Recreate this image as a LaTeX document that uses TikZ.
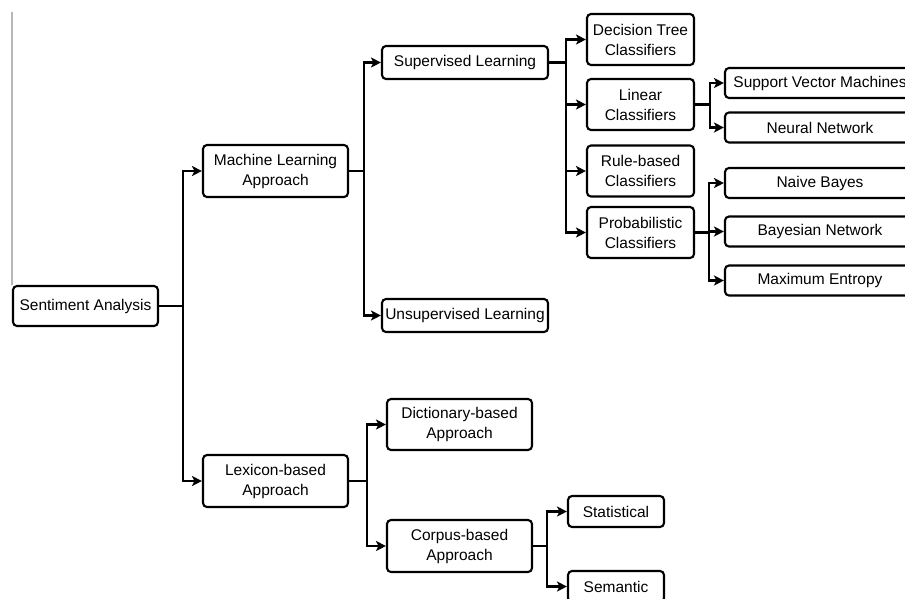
\documentclass[tikz,border=0pt]{standalone}
\usepackage{fontspec}
\setmainfont{Liberation Sans}
\usetikzlibrary{arrows.meta}

\begin{document}
\begin{tikzpicture}[x=1pt,y=-1pt,
    box/.style={draw,line width=2.1pt,rounded corners=4pt,inner sep=0pt,align=center,
        font=\fontsize{15.5}{20}\selectfont},
    arr/.style={-{Stealth[length=10pt,width=10pt,inset=2.5pt]},line width=2.3pt}]
    \useasboundingbox (0,0) rectangle (905,598);
    \clip (0,0) rectangle (905,598);
    % level 1 and 2
    \node[box,minimum width=145pt,minimum height=40pt] (11) at (85.5,306) {Sentiment Analysis};
    \node[box,minimum width=145pt,minimum height=52pt] (21) at (275.5,171) {Machine Learning\\Approach};
    \node[box,minimum width=145pt,minimum height=52pt] (22) at (275.5,481) {Lexicon-based\\Approach};
    % level 3
    \node[box,minimum width=166pt,minimum height=33pt] (31) at (465,62.5) {Supervised Learning};
    \node[box,minimum width=166pt,minimum height=33pt] (32) at (465,315.5) {Unsupervised Learning};
    \node[box,minimum width=145pt,minimum height=51pt] (33) at (459.5,424.5) {Dictionary-based\\Approach};
    \node[box,minimum width=145pt,minimum height=52pt] (34) at (459.5,546) {Corpus-based\\Approach};
    % level 4
    \node[box,minimum width=107pt,minimum height=51pt] (41) at (640.5,39.5) {Decision Tree\\Classifiers};
    \node[box,minimum width=107pt,minimum height=51pt] (42) at (640.5,104.5) {Linear\\Classifiers};
    \node[box,minimum width=107pt,minimum height=51pt] (43) at (640.5,171) {Rule-based\\Classifiers};
    \node[box,minimum width=107pt,minimum height=51pt] (44) at (640.5,232.5) {Probabilistic\\Classifiers};
    \node[box,minimum width=96pt,minimum height=31pt] (45) at (616,511.5) {Statistical};
    \node[box,minimum width=96pt,minimum height=31pt] (46) at (616,586.5) {Semantic};
    % level 5
    \node[box,minimum width=190pt,minimum height=30pt] (51) at (820,83) {Support Vector Machines};
    \node[box,minimum width=190pt,minimum height=30pt] (52) at (820,127.5) {Neural Network};
    \node[box,minimum width=190pt,minimum height=30pt] (53) at (820,183) {Naive Bayes};
    \node[box,minimum width=190pt,minimum height=30pt] (54) at (820,231.5) {Bayesian Network};
    \node[box,minimum width=190pt,minimum height=30pt] (55) at (820,280.5) {Maximum Entropy};
    \coordinate (top) at (12,12);
    \draw[line width=0.9pt,black!80] (top) -- (11.north west);
    % connectors
    \draw[arr] (11.east) -- ++(24,0) |- (21.west);
    \draw[arr] (11.east) -- ++(24,0) |- (22.west);
    \draw[arr] (21.east) -- ++(15,0) |- (31.west);
    \draw[arr] (21.east) -- ++(15,0) |- (32.west);
    \draw[arr] (22.east) -- ++(18,0) |- (33.west);
    \draw[arr] (22.east) -- ++(18,0) |- (34.west);
    \foreach \c in {41,42,43,44}
        \draw[arr] (31.east) -- ++(17,0) |- (\c.west);
    \draw[arr] (42.east) -- ++(15,0) |- (51.west);
    \draw[arr] (42.east) -- ++(15,0) |- (52.west);
    \foreach \c in {53,54,55}
        \draw[arr] (44.east) -- ++(14,0) |- (\c.west);
    \draw[arr] (34.east) -- ++(14,0) |- (45.west);
    \draw[arr] (34.east) -- ++(14,0) |- (46.west);
\end{tikzpicture}
\end{document}
